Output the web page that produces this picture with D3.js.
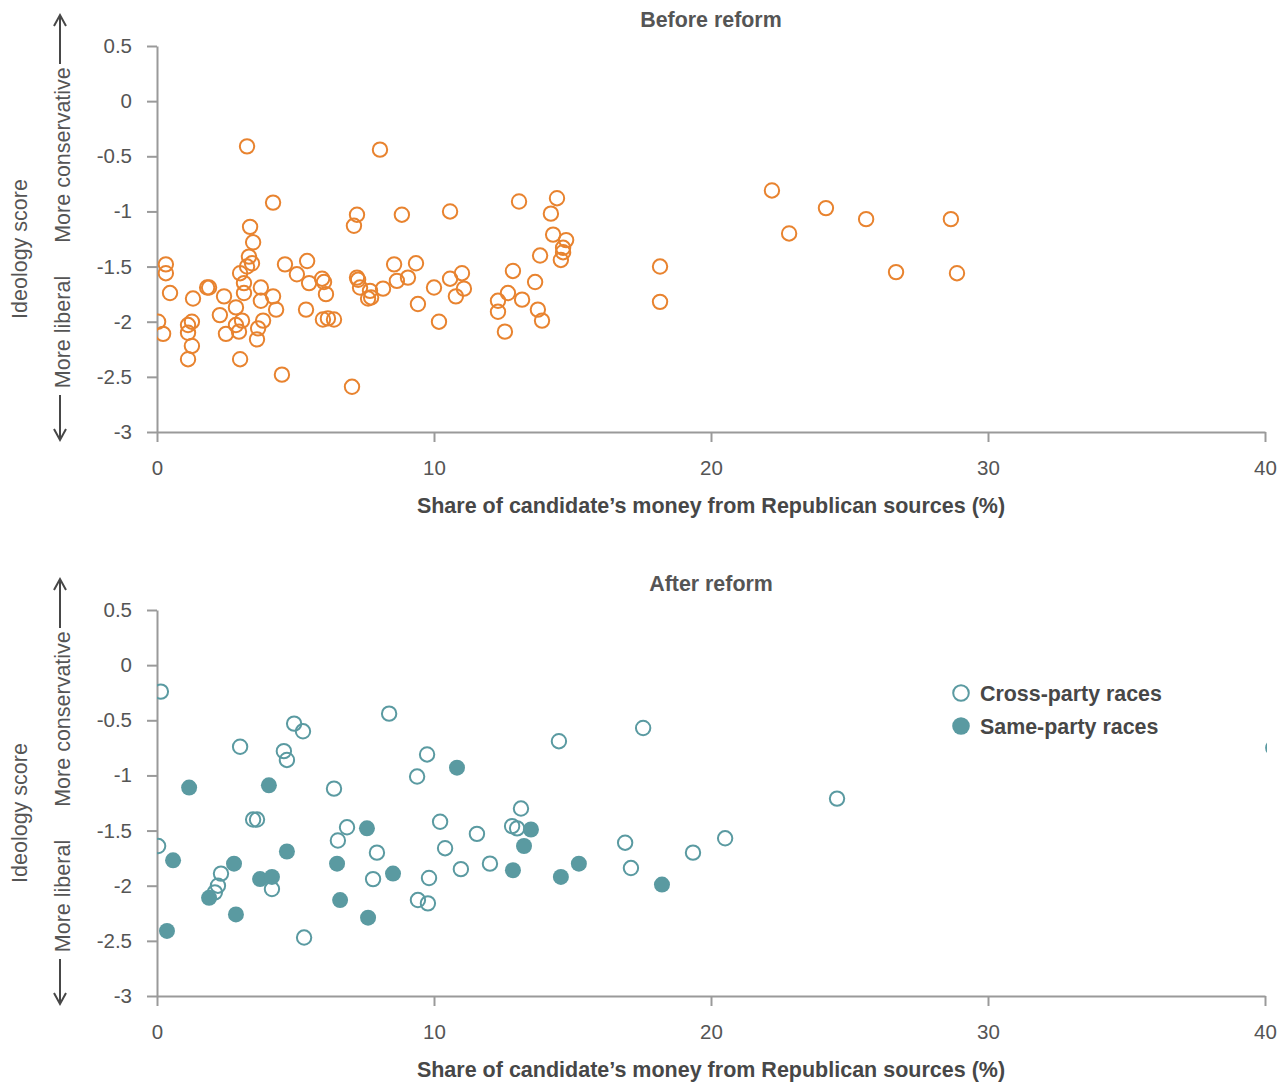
<!DOCTYPE html>
<html>
<head>
<meta charset="utf-8">
<script src="https://cdn.jsdelivr.net/npm/d3@7/dist/d3.min.js"></script>
<style>
	body { margin: 0; background: #fff; }
	text { font-family: "Liberation Sans", Arial, sans-serif; }
</style>
</head>
<body>
<div id="grafico"></div>
<script>
// Marcas de los ejes
var ticksX = [0, 10, 20, 30, 40];
var ticksY = [0.5, 0, -0.5, -1, -1.5, -2, -2.5, -3];

// Antes de la reforma (x = % dinero republicano, y = ideologia)
var antesX = [0.04, 0.22, 0.32, 0.32, 0.47, 1.12, 1.12, 1.12, 1.26, 1.26, 1.30, 1.81, 1.88, 2.27, 2.42, 2.49, 2.85, 2.85, 3.00, 3.00,
	2.96, 3.07, 3.14, 3.14, 3.25, 3.32, 3.25, 3.36, 3.47, 3.43, 3.61, 3.65, 3.75, 3.75, 3.83, 4.19, 4.19, 4.30, 4.51, 4.62,
	5.05, 5.42, 5.38, 5.49, 5.96, 5.99, 6.03, 6.10, 6.17, 6.39, 7.04, 7.11, 7.22, 7.22, 7.26, 7.33, 7.62, 7.73, 7.69, 8.05,
	8.16, 8.56, 8.66, 8.84, 9.06, 9.35, 9.42, 10.00, 10.18, 10.58, 10.58, 10.79, 11.01, 11.08, 12.31, 12.31, 12.56, 12.67, 12.85, 13.07,
	13.18, 13.65, 13.83, 13.75, 13.90, 14.22, 14.30, 14.44, 14.77, 14.66, 14.66, 14.58, 18.16, 18.16, 22.20, 22.82, 24.15, 25.60, 26.68, 28.66, 28.88];
var antesY = [-2.00, -2.11, -1.48, -1.56, -1.74, -2.03, -2.10, -2.34, -2.00, -2.22, -1.79, -1.69, -1.69, -1.94, -1.77, -2.11, -1.87, -2.03, -1.56, -2.34,
	-2.09, -1.99, -1.65, -1.74, -0.41, -1.41, -1.50, -1.14, -1.28, -1.47, -2.16, -2.06, -1.81, -1.69, -1.99, -0.92, -1.77, -1.89, -2.48, -1.48,
	-1.57, -1.45, -1.89, -1.65, -1.61, -1.98, -1.64, -1.75, -1.97, -1.98, -2.59, -1.13, -1.03, -1.60, -1.62, -1.69, -1.79, -1.78, -1.72, -0.44,
	-1.70, -1.48, -1.63, -1.03, -1.60, -1.47, -1.84, -1.69, -2.00, -1.00, -1.61, -1.77, -1.56, -1.70, -1.81, -1.91, -2.09, -1.74, -1.54, -0.91,
	-1.80, -1.64, -1.40, -1.89, -1.99, -1.02, -1.21, -0.88, -1.26, -1.33, -1.37, -1.44, -1.50, -1.82, -0.81, -1.20, -0.97, -1.07, -1.55, -1.07, -1.56];

// Despues de la reforma: carreras entre partidos distintos
var cruzadasX = [0.14, 0.04, 3.00, 4.95, 5.27, 4.58, 4.69, 3.47, 3.61, 6.39, 8.38, 6.86, 6.53, 7.94, 7.80, 2.31, 2.20, 2.09, 4.15, 5.31,
	9.39, 9.75, 10.22, 10.40, 9.82, 9.42, 9.78, 10.97, 12.02, 11.55, 12.82, 13.00, 13.14, 14.51, 16.90, 17.11, 17.55, 19.35, 20.51, 24.55, 40.3];
var cruzadasY = [-0.24, -1.64, -0.74, -0.53, -0.60, -0.78, -0.86, -1.40, -1.40, -1.12, -0.44, -1.47, -1.59, -1.70, -1.94, -1.89, -2.00, -2.06, -2.03, -2.47,
	-1.01, -0.81, -1.42, -1.66, -1.93, -2.13, -2.16, -1.85, -1.80, -1.53, -1.46, -1.48, -1.30, -0.69, -1.61, -1.84, -0.57, -1.70, -1.57, -1.21, -0.75];

// Despues de la reforma: carreras del mismo partido
var mismasX = [0.36, 0.58, 1.16, 1.88, 2.78, 2.85, 3.72, 4.15, 4.04, 4.69, 6.50, 6.61, 7.58, 7.62, 8.52, 10.83, 12.85, 13.25, 13.50, 14.58, 15.23, 18.23];
var mismasY = [-2.41, -1.77, -1.11, -2.11, -1.80, -2.26, -1.94, -1.92, -1.09, -1.69, -1.80, -2.13, -1.48, -2.29, -1.89, -0.93, -1.86, -1.64, -1.49, -1.92, -1.80, -1.99];

var series = ["Cross-party races", "Same-party races"];

var naranja = "#e8832f",
	verde = "#5a9aa1",
	gris = "#9a9a9a",
	texto = "#555555",
	oscuro = "#474747";

var svg = d3.select("#grafico")
			.append("svg")
			.attr("width", 1285)
			.attr("height", 1082);

// Recorte del area de dibujo
svg.append("clipPath")
	.attr("id", "recorte")
	.append("rect")
	.attr("x", 157)
	.attr("y", 0)
	.attr("width", 1110)
	.attr("height", 1082);

function unir(xs, ys) {
	return xs.map(function(d, i) { return {x: d, y: ys[i]}; });
}

// Dibuja un panel completo; arriba = desplazamiento vertical
function panel(arriba, titulo) {
	var x = d3.scaleLinear().domain([0, 40]).range([157, 1265]);
	var y = d3.scaleLinear().domain([-3, 0.5]).range([arriba + 432, arriba + 46]);

	var g = svg.append("g");

	// Eje x
	var ejeX = g.append("g")
		.attr("transform", "translate(0," + (arriba + 432) + ")")
		.call(d3.axisBottom(x).tickValues(ticksX).tickSize(10).tickSizeOuter(0).tickPadding(18));
	// Eje y
	var ejeY = g.append("g")
		.attr("transform", "translate(157,0)")
		.call(d3.axisLeft(y).tickValues(ticksY).tickSize(10).tickSizeOuter(0).tickPadding(15)
			.tickFormat(function(d) { return d3.format("")(d).replace("−", "-"); }));

	[ejeX, ejeY].forEach(function(e) {
		e.select(".domain").attr("stroke", gris).attr("stroke-width", 2);
		e.selectAll(".tick line").attr("stroke", gris).attr("stroke-width", 2);
		e.selectAll(".tick text").attr("fill", texto).attr("font-size", 20.5)
			.attr("font-family", "Liberation Sans, Arial, sans-serif");
	});

	// Titulo del panel
	g.append("text")
		.attr("x", 711)
		.attr("y", arriba + 27)
		.attr("text-anchor", "middle")
		.attr("font-size", 21.4)
		.attr("font-weight", "bold")
		.attr("fill", texto)
		.text(titulo);

	// Titulo eje x
	g.append("text")
		.attr("x", 711)
		.attr("y", arriba + 513)
		.attr("text-anchor", "middle")
		.attr("font-size", 21.5)
		.attr("font-weight", "bold")
		.attr("fill", oscuro)
		.text("Share of candidate\u2019s money from Republican sources (%)");

	// Titulos eje y rotados
	var rotulos = [
		{t: "Ideology score", x: 27, y: arriba + 249},
		{t: "More conservative", x: 70, y: arriba + 155},
		{t: "More liberal", x: 70, y: arriba + 332}
	];
	g.selectAll(".rotulo")
		.data(rotulos)
		.enter().append("text")
		.attr("class", "rotulo")
		.attr("transform", function(d) { return "translate(" + d.x + "," + d.y + ") rotate(-90)"; })
		.attr("text-anchor", "middle")
		.attr("font-size", 21.5)
		.attr("fill", texto)
		.text(function(d) { return d.t; });

	// Flechas
	var flecha = d3.path();
	flecha.moveTo(60, arriba + 64); flecha.lineTo(60, arriba + 15);
	flecha.moveTo(54, arriba + 26); flecha.lineTo(60, arriba + 15); flecha.lineTo(66, arriba + 26);
	flecha.moveTo(60, arriba + 395); flecha.lineTo(60, arriba + 440);
	flecha.moveTo(54, arriba + 429); flecha.lineTo(60, arriba + 440); flecha.lineTo(66, arriba + 429);
	g.append("path")
		.attr("d", flecha.toString())
		.attr("fill", "none")
		.attr("stroke", oscuro)
		.attr("stroke-width", 2);

	return {x: x, y: y, g: g};
}

// Panel superior
var p1 = panel(0, "Before reform");
p1.g.append("g")
	.attr("clip-path", "url(#recorte)")
	.selectAll("circle")
	.data(unir(antesX, antesY))
	.enter().append("circle")
	.attr("cx", function(d) { return p1.x(d.x); })
	.attr("cy", function(d) { return p1.y(d.y); })
	.attr("r", 7.2)
	.attr("fill", "none")
	.attr("stroke", naranja)
	.attr("stroke-width", 2);

// Panel inferior
var p2 = panel(564, "After reform");
var puntos = p2.g.append("g").attr("clip-path", "url(#recorte)");
puntos.selectAll(".cruzada")
	.data(unir(cruzadasX, cruzadasY))
	.enter().append("circle")
	.attr("class", "cruzada")
	.attr("cx", function(d) { return p2.x(d.x); })
	.attr("cy", function(d) { return p2.y(d.y); })
	.attr("r", 7.2)
	.attr("fill", "none")
	.attr("stroke", verde)
	.attr("stroke-width", 2);
puntos.selectAll(".misma")
	.data(unir(mismasX, mismasY))
	.enter().append("circle")
	.attr("class", "misma")
	.attr("cx", function(d) { return p2.x(d.x); })
	.attr("cy", function(d) { return p2.y(d.y); })
	.attr("r", 8)
	.attr("fill", verde);

// Leyenda
var leyenda = svg.append("g")
	.selectAll("g")
	.data(series)
	.enter().append("g")
	.attr("transform", function(d, i) { return "translate(961," + (693 + i * 33) + ")"; });

leyenda.append("circle")
	.attr("r", function(d, i) { return i == 0 ? 7.8 : 8.8; })
	.attr("fill", function(d, i) { return i == 0 ? "none" : verde; })
	.attr("stroke", function(d, i) { return i == 0 ? verde : "none"; })
	.attr("stroke-width", 2);

leyenda.append("text")
	.attr("x", 19)
	.attr("y", 8)
	.attr("font-size", 21.4)
	.attr("font-weight", "bold")
	.attr("fill", oscuro)
	.text(function(d) { return d; });
</script>
</body>
</html>
